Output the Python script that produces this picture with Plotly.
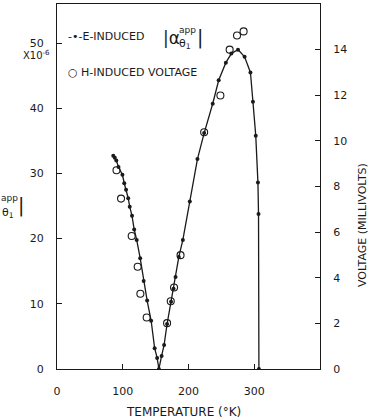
import plotly.graph_objects as go

# E-induced |alpha_theta1^app| (x1e-6) vs temperature (K)
e_temp = [85.6, 87.9, 90.2, 93.5, 99.5, 102.3, 105.0, 108.3, 110.6, 114.1, 117.4, 121.2,
          126.5, 131.8, 137.1, 143.2, 148.5, 152.3, 155.0, 159.1, 162.9, 167.4, 173.5,
          177.3, 180.3, 185.3, 191.4, 202.0, 213.6, 223.8, 236.8, 245.9, 256.8, 265.2,
          275.3, 285.3, 294.2, 298.0, 302.3, 305.6, 306.5, 307.1]
e_alpha = [32.7, 32.4, 32.0, 31.0, 29.8, 28.5, 27.5, 26.2, 24.9, 23.5, 21.4, 19.8,
           17.0, 13.5, 10.5, 7.4, 3.2, 1.7, 0.0, 2.0, 3.7, 6.9, 10.3,
           12.3, 14.1, 17.2, 19.8, 25.7, 32.2, 36.2, 40.7, 44.3, 47.0, 48.4,
           49.0, 47.9, 45.5, 41.0, 35.8, 28.6, 23.8, 0.0]

# H-induced voltage (millivolts) vs temperature (K)
h_temp = [90.5, 97.4, 113.6, 122.7, 126.8, 136.4, 167.4, 173.0, 178.0, 187.9,
          223.8, 248.5, 262.6, 273.8, 283.8]
h_volt = [8.71, 7.47, 5.83, 4.48, 3.30, 2.26, 2.01, 2.97, 3.57, 4.99,
          10.38, 11.99, 14.0, 14.62, 14.8]

x_ticks = [0, 100, 200, 300]
y_ticks = [0, 10, 20, 30, 40, 50]
y2_ticks = [0, 2, 4, 6, 8, 10, 12, 14]

INK = "#1a1a1a"
FONT = "DejaVu Sans"

fig = go.Figure()
fig.add_trace(go.Scatter(x=e_temp, y=e_alpha, mode="lines+markers",
                         line=dict(color=INK, width=1.3),
                         marker=dict(color=INK, size=4),
                         name="E-INDUCED", showlegend=False))
fig.add_trace(go.Scatter(x=h_temp, y=h_volt, yaxis="y2", mode="markers",
                         marker=dict(symbol="circle-open", color=INK, size=7,
                                     line=dict(width=1.1)),
                         name="H-INDUCED VOLTAGE", showlegend=False))

W, H = 377, 420
L, R, T, B = 57, 320, 4, 369


def px(x):
    return (x - L) / (R - L)


def py(y):
    return (B - y) / (B - T)


axis_common = dict(showline=True, linecolor=INK, linewidth=1.2, ticks="inside",
                   ticklen=5, tickcolor=INK, tickwidth=1, showgrid=False,
                   zeroline=False, automargin=False,
                   tickfont=dict(family=FONT, size=11, color=INK))

fig.update_layout(
    width=W, height=H,
    margin=dict(l=L, r=W - R, t=T, b=H - B, autoexpand=False),
    paper_bgcolor="white", plot_bgcolor="white",
    font=dict(family=FONT, color=INK),
    xaxis=dict(range=[0, 400], tickvals=x_ticks, mirror=True,
               ticklabelstandoff=12, **axis_common),
    yaxis=dict(range=[0, 56], tickvals=y_ticks, ticklabelstandoff=10, **axis_common),
    yaxis2=dict(range=[0, 16], tickvals=y2_ticks, overlaying="y", side="right",
                ticklabelstandoff=10, **axis_common),
)

ann = []


def add(text, x, y, size=11, xa="center", ya="middle", angle=0):
    ann.append(dict(text=text, x=px(x), y=py(y), xref="paper", yref="paper",
                    xanchor=xa, yanchor=ya, showarrow=False, textangle=angle,
                    font=dict(family=FONT, size=size, color=INK)))


# legend
add("-•-E-INDUCED", 66, 37, 11, xa="left")
add("|α", 161, 38, 17, xa="left")
add("app", 177, 30, 9, xa="left")
add("θ<sub>1</sub>", 177, 44, 11, xa="left")
add("|", 200, 38, 19, xa="center")
add("○ H-INDUCED VOLTAGE", 66, 72, 11, xa="left")

# left axis extras
add("X10<sup>-6</sup>", 36, 55, 10)
add("app", 9, 198, 9)
add("θ<sub>1</sub>", 8, 213, 11)
add("|", 21, 206, 19)

# axis titles
add("TEMPERATURE (°K)", 183, 412, 12)
add("VOLTAGE (MILLIVOLTS)", 362, 225, 11, angle=-90)

fig.update_layout(annotations=ann)
fig.write_html("out.html", config={"displayModeBar": False},
               post_script="document.body.style.margin='0';document.body.style.overflow='hidden';")
